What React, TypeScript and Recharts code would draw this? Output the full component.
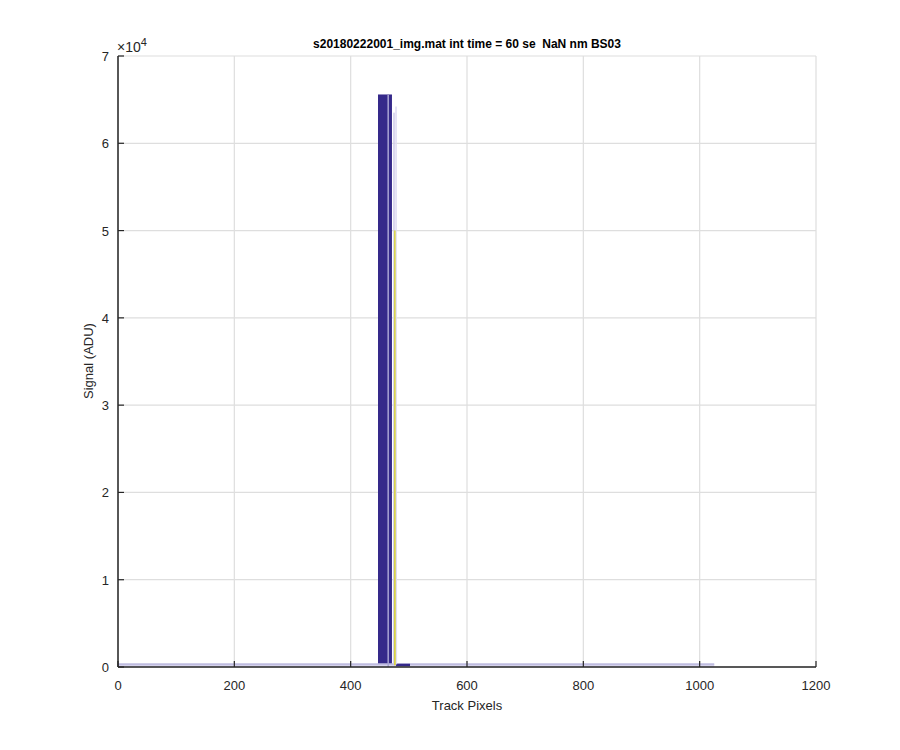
import { ComposedChart, Area, Line, XAxis, YAxis, CartesianGrid } from "recharts";

// Pixel positions (x) and signal values (ADU)
const xTicks = [0, 200, 400, 600, 800, 1000, 1200];
const yTicks = [0, 10000, 20000, 30000, 40000, 50000, 60000, 70000];

const saturatedBlock = [
  { px: 447, adu: 65535 },
  { px: 471, adu: 65535 },
];
const blockStripe = [
  { px: 464.5, adu: 0 },
  { px: 464.5, adu: 65535 },
];
const baseline = [
  { px: 0, adu: 320 },
  { px: 446, adu: 320 },
  { px: 472, adu: 320 },
  { px: 1025, adu: 320 },
];
const baselineLow = [
  { px: 0, adu: 180 },
  { px: 1025, adu: 180 },
];
const darkTail = [
  { px: 478, adu: 230 },
  { px: 502, adu: 230 },
];
const faintSpikeA = [
  { px: 473.5, adu: 300 },
  { px: 474.5, adu: 63500 },
  { px: 475.2, adu: 300 },
];
const faintSpikeB = [
  { px: 477, adu: 300 },
  { px: 478, adu: 64200 },
  { px: 479, adu: 300 },
];
const yellowSpike = [
  { px: 475.5, adu: 200 },
  { px: 476, adu: 50000 },
  { px: 476.6, adu: 200 },
];

const ink = "#262626";
const font = "'Liberation Sans', Arial, Helvetica, sans-serif";
const dark = "#35298a";

const XTick = (props: any) => {
  const { x, y, payload } = props;
  return (
    <g>
      <line x1={x} x2={x} y1={y} y2={y - 6} stroke={ink} strokeWidth={1.2} />
      <text x={x} y={y + 23} textAnchor="middle" fontSize={13} fill={ink} fontFamily={font}>
        {payload.value}
      </text>
    </g>
  );
};

const YTick = (props: any) => {
  const { x, y, payload } = props;
  return (
    <g>
      <line x1={x} x2={x + 6} y1={y} y2={y} stroke={ink} strokeWidth={1.2} />
      <text x={x - 9} y={y + 5} textAnchor="end" fontSize={13} fill={ink} fontFamily={font}>
        {payload.value / 10000}
      </text>
    </g>
  );
};

export default function App() {
  return (
    <div style={{ position: "absolute", left: 0, top: 0, width: 900, height: 750, background: "#fff" }}>
      <ComposedChart
        width={900}
        height={750}
        margin={{ top: 56, right: 84, bottom: 53, left: 78 }}
      >
        <CartesianGrid stroke="#dedede" strokeWidth={1.2} vertical horizontal />
        <XAxis
          type="number"
          dataKey="px"
          domain={[0, 1200]}
          ticks={xTicks}
          height={30}
          tickSize={0}
          tickMargin={0}
          tickLine={false}
          axisLine={{ stroke: ink, strokeWidth: 1.5 }}
          tick={XTick}
          allowDataOverflow
        />
        <YAxis
          type="number"
          dataKey="adu"
          domain={[0, 70000]}
          ticks={yTicks}
          width={40}
          tickSize={0}
          tickMargin={0}
          tickLine={false}
          axisLine={{ stroke: ink, strokeWidth: 1.5 }}
          tick={YTick}
          allowDataOverflow
        />
        <Line data={baselineLow} dataKey="adu" stroke="#dcdaf0" strokeWidth={3} dot={false} isAnimationActive={false} />
        <Line data={baseline} dataKey="adu" stroke="#bfbce0" strokeWidth={2} dot={false} isAnimationActive={false} />
        <Area
          data={saturatedBlock}
          dataKey="adu"
          type="linear"
          stroke={dark}
          strokeWidth={1}
          fill={dark}
          fillOpacity={1}
          isAnimationActive={false}
        />
        <Line data={blockStripe} dataKey="adu" stroke="#a9a4d4" strokeWidth={1.5} dot={false} isAnimationActive={false} />
        <Line data={darkTail} dataKey="adu" stroke={dark} strokeWidth={2.5} dot={false} isAnimationActive={false} />
        <Line data={faintSpikeA} dataKey="adu" stroke="#cfcbe9" strokeWidth={1} dot={false} isAnimationActive={false} />
        <Line data={faintSpikeB} dataKey="adu" stroke="#dedbf2" strokeWidth={1} dot={false} isAnimationActive={false} />
        <Line data={yellowSpike} dataKey="adu" stroke="#d9d23a" strokeWidth={1} dot={false} isAnimationActive={false} />
      </ComposedChart>
      <svg width={900} height={750} style={{ position: "absolute", left: 0, top: 0, pointerEvents: "none" }}>
        <text
          x={467}
          y={48}
          textAnchor="middle"
          fontSize={12}
          fontWeight="bold"
          fill="#000"
          fontFamily={font}
          style={{ whiteSpace: "pre" }}
        >
          {"s20180222001_img.mat int time = 60 se  NaN nm BS03"}
        </text>
        <text x={117} y={52} fontSize={14} fill={ink} fontFamily={font}>
          ×10<tspan dy={-6} fontSize={11}>4</tspan>
        </text>
        <text x={467} y={710} textAnchor="middle" fontSize={13} fill={ink} fontFamily={font}>
          Track Pixels
        </text>
        <text
          x={93}
          y={361}
          textAnchor="middle"
          fontSize={13}
          fill={ink}
          fontFamily={font}
          transform="rotate(-90 93 361)"
        >
          Signal (ADU)
        </text>
      </svg>
    </div>
  );
}
